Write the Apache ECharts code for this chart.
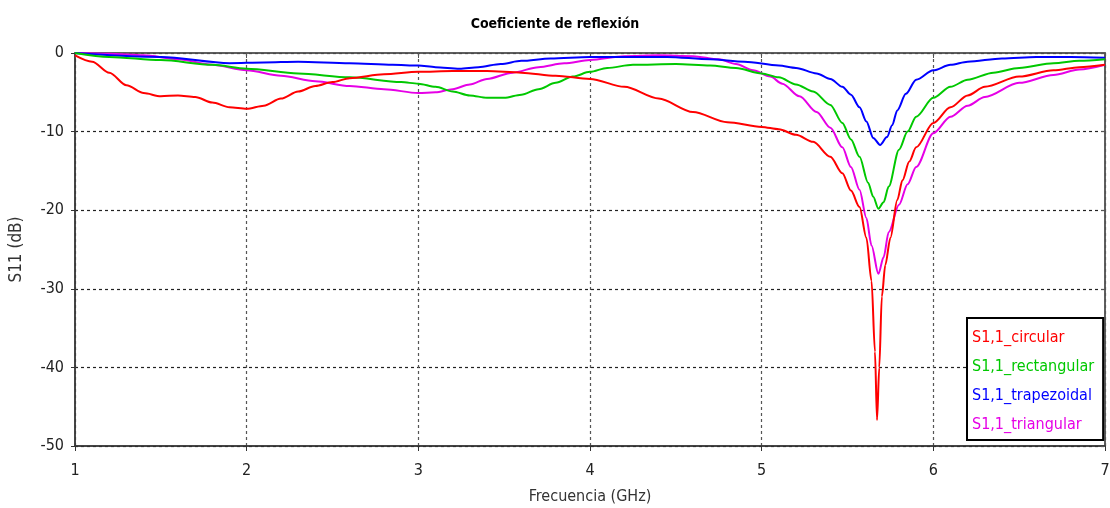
<!DOCTYPE html>
<html>
<head>
<meta charset="utf-8">
<script src="https://cdn.jsdelivr.net/npm/echarts@6/dist/echarts.min.js"></script>
<style>
  html, body { margin: 0; padding: 0; background: #fff; }
  #main { width: 1110px; height: 508px; }
</style>
</head>
<body>
<div id="main"></div>
<script>
// datos: [frecuencia GHz, S11 dB]
var circular = [[1.0,-0.3],[1.1,-1.1],[1.2,-2.5],[1.3,-4.1],[1.4,-5.1],[1.5,-5.5],[1.6,-5.4],[1.7,-5.6],[1.8,-6.3],[1.9,-6.9],[2.0,-7.1],[2.1,-6.7],[2.2,-5.8],[2.3,-4.9],[2.4,-4.2],[2.5,-3.7],[2.6,-3.2],[2.8,-2.7],[3.0,-2.4],[3.2,-2.3],[3.4,-2.3],[3.6,-2.5],[3.8,-2.9],[4.0,-3.3],[4.2,-4.3],[4.4,-5.8],[4.6,-7.5],[4.8,-8.8],[5.0,-9.4],[5.1,-9.7],[5.2,-10.4],[5.3,-11.3],[5.4,-13.2],[5.47,-15.3],[5.52,-17.5],[5.57,-19.6],[5.61,-23.5],[5.64,-29],[5.66,-38],[5.672,-46.7],[5.685,-40],[5.7,-31],[5.72,-27],[5.75,-23.5],[5.79,-18.7],[5.82,-16.2],[5.86,-13.8],[5.9,-12],[6.0,-8.9],[6.1,-6.9],[6.2,-5.4],[6.3,-4.3],[6.5,-3.0],[6.7,-2.2],[6.85,-1.8],[7.0,-1.5]];
var rectangular = [[1.0,0],[1.2,-0.5],[1.5,-0.9],[1.8,-1.5],[2.0,-2.0],[2.3,-2.6],[2.6,-3.1],[2.9,-3.7],[3.0,-3.9],[3.1,-4.3],[3.2,-4.9],[3.3,-5.4],[3.4,-5.7],[3.5,-5.7],[3.6,-5.3],[3.7,-4.6],[3.8,-3.8],[3.9,-3.0],[4.0,-2.4],[4.1,-1.9],[4.25,-1.5],[4.5,-1.4],[4.7,-1.6],[4.85,-1.9],[5.0,-2.6],[5.1,-3.1],[5.2,-4.0],[5.3,-4.9],[5.4,-6.6],[5.47,-8.9],[5.52,-11],[5.57,-13.2],[5.62,-16.5],[5.65,-18.3],[5.68,-19.8],[5.71,-19.0],[5.74,-17],[5.8,-12.3],[5.85,-10],[5.9,-8.1],[6.0,-5.7],[6.1,-4.3],[6.2,-3.4],[6.35,-2.5],[6.5,-1.9],[6.7,-1.3],[6.85,-1.0],[7.0,-0.8]];
var trapezoidal = [[1.0,0],[1.5,-0.5],[1.9,-1.3],[2.1,-1.2],[2.3,-1.1],[2.6,-1.3],[2.85,-1.5],[3.0,-1.6],[3.1,-1.8],[3.24,-2.0],[3.35,-1.8],[3.48,-1.4],[3.6,-1.0],[3.77,-0.7],[4.0,-0.5],[4.45,-0.5],[4.7,-0.8],[4.9,-1.1],[5.1,-1.6],[5.2,-1.9],[5.32,-2.6],[5.4,-3.3],[5.47,-4.3],[5.52,-5.3],[5.57,-6.9],[5.61,-8.7],[5.65,-10.8],[5.69,-11.7],[5.73,-10.7],[5.76,-9.2],[5.79,-7.3],[5.84,-5.2],[5.9,-3.4],[6.0,-2.2],[6.1,-1.5],[6.2,-1.1],[6.4,-0.7],[6.6,-0.5],[6.8,-0.5],[7.0,-0.6]];
var triangular = [[1.0,0],[1.2,-0.1],[1.4,-0.3],[1.6,-0.8],[1.8,-1.5],[2.0,-2.2],[2.2,-2.9],[2.4,-3.6],[2.6,-4.2],[2.8,-4.6],[3.0,-5.1],[3.1,-5.0],[3.2,-4.6],[3.3,-4.0],[3.4,-3.3],[3.55,-2.5],[3.7,-1.8],[3.85,-1.3],[4.0,-0.9],[4.2,-0.4],[4.4,-0.3],[4.6,-0.4],[4.75,-0.8],[4.85,-1.4],[4.95,-2.2],[5.05,-3.0],[5.12,-3.9],[5.22,-5.5],[5.32,-7.5],[5.4,-9.5],[5.47,-12],[5.52,-14.5],[5.57,-17.4],[5.61,-21],[5.64,-24.5],[5.68,-28.1],[5.71,-26],[5.74,-22.8],[5.8,-19.3],[5.85,-16.7],[5.9,-14.5],[6.0,-10.2],[6.1,-8.1],[6.2,-6.7],[6.3,-5.6],[6.5,-3.8],[6.7,-2.8],[6.85,-2.1],[7.0,-1.5]];

var nombres = ['S1,1_circular', 'S1,1_rectangular', 'S1,1_trapezoidal', 'S1,1_triangular'];
var colores = ['#ff0000', '#00c800', '#0000ff', '#e600e6'];
var datos = [circular, rectangular, trapezoidal, triangular];

var fuente = '"DejaVu Sans Condensed", "DejaVu Sans", sans-serif';

var myChart = echarts.init(document.getElementById('main'));

var series = [];
var legendData = [];
for (var i = 0; i < datos.length; i++) {
    series.push({
        name: nombres[i],
        type: 'line',
        data: datos[i],
        showSymbol: false,
        smooth: 0.3,
        smoothMonotone: 'x',
        lineStyle: { color: colores[i], width: 2 },
        itemStyle: { color: colores[i] },
        z: 10 - i
    });
    legendData.push({ name: nombres[i], icon: 'none', textStyle: { color: colores[i] } });
}

var option = {
    animation: false,
    backgroundColor: '#fff',
    title: {
        text: 'Coeficiente de reflexión',
        left: 'center',
        top: 12,
        textStyle: { fontFamily: fuente, fontSize: 14, fontWeight: 'bold', color: '#000' }
    },
    legend: {
        orient: 'vertical',
        left: 967,
        top: 318,
        itemWidth: 0,
        itemHeight: 18,
        itemGap: 11,
        padding: [11, 9, 6, 0],
        borderColor: '#000',
        borderWidth: 2,
        backgroundColor: '#fff',
        selectedMode: false,
        textStyle: { fontFamily: fuente, fontSize: 16, lineHeight: 18 },
        data: legendData
    },
    grid: {
        left: 75, right: 5, top: 53, bottom: 62,
        outerBoundsMode: 'none',
        show: true, borderColor: '#555', borderWidth: 1.5
    },
    xAxis: [{
        type: 'value',
        min: 1, max: 7, interval: 1,
        name: 'Frecuencia (GHz)',
        nameLocation: 'middle',
        nameGap: 43,
        nameTextStyle: { fontFamily: fuente, fontSize: 16, color: '#333' },
        axisLine: { onZero: false, lineStyle: { color: '#333', width: 1.5 } },
        axisTick: { show: true, length: 5, lineStyle: { color: '#333' } },
        axisLabel: { fontFamily: fuente, fontSize: 16, color: '#222', margin: 17 },
        splitLine: { show: true, lineStyle: { color: '#555', type: [3, 3], width: 1.2 } }
    }, {
        type: 'value',
        position: 'top',
        min: 1, max: 7, interval: 1,
        axisLine: { onZero: false, lineStyle: { color: '#555', width: 1.5 } },
        axisTick: { show: true, inside: true, length: 5, lineStyle: { color: '#555' } },
        axisLabel: { show: false },
        splitLine: { show: false }
    }],
    yAxis: [{
        type: 'value',
        min: -50, max: 0, interval: 10,
        name: 'S11 (dB)',
        nameLocation: 'middle',
        nameGap: 50,
        nameTextStyle: { fontFamily: fuente, fontSize: 17, color: '#333' },
        axisLine: { show: true, lineStyle: { color: '#333', width: 1.5 } },
        axisTick: { show: true, length: 4, lineStyle: { color: '#333' } },
        axisLabel: { fontFamily: fuente, fontSize: 16, color: '#222', margin: 11 },
        splitLine: { show: true, lineStyle: { color: '#222', type: [3, 3], width: 1.2 } }
    }, {
        type: 'value',
        position: 'right',
        min: -50, max: 0, interval: 10,
        axisLine: { show: true, lineStyle: { color: '#555', width: 1.5 } },
        axisTick: { show: true, inside: true, length: 4, lineStyle: { color: '#555' } },
        axisLabel: { show: false },
        splitLine: { show: false }
    }],
    series: series
};

myChart.setOption(option);
</script>
</body>
</html>
